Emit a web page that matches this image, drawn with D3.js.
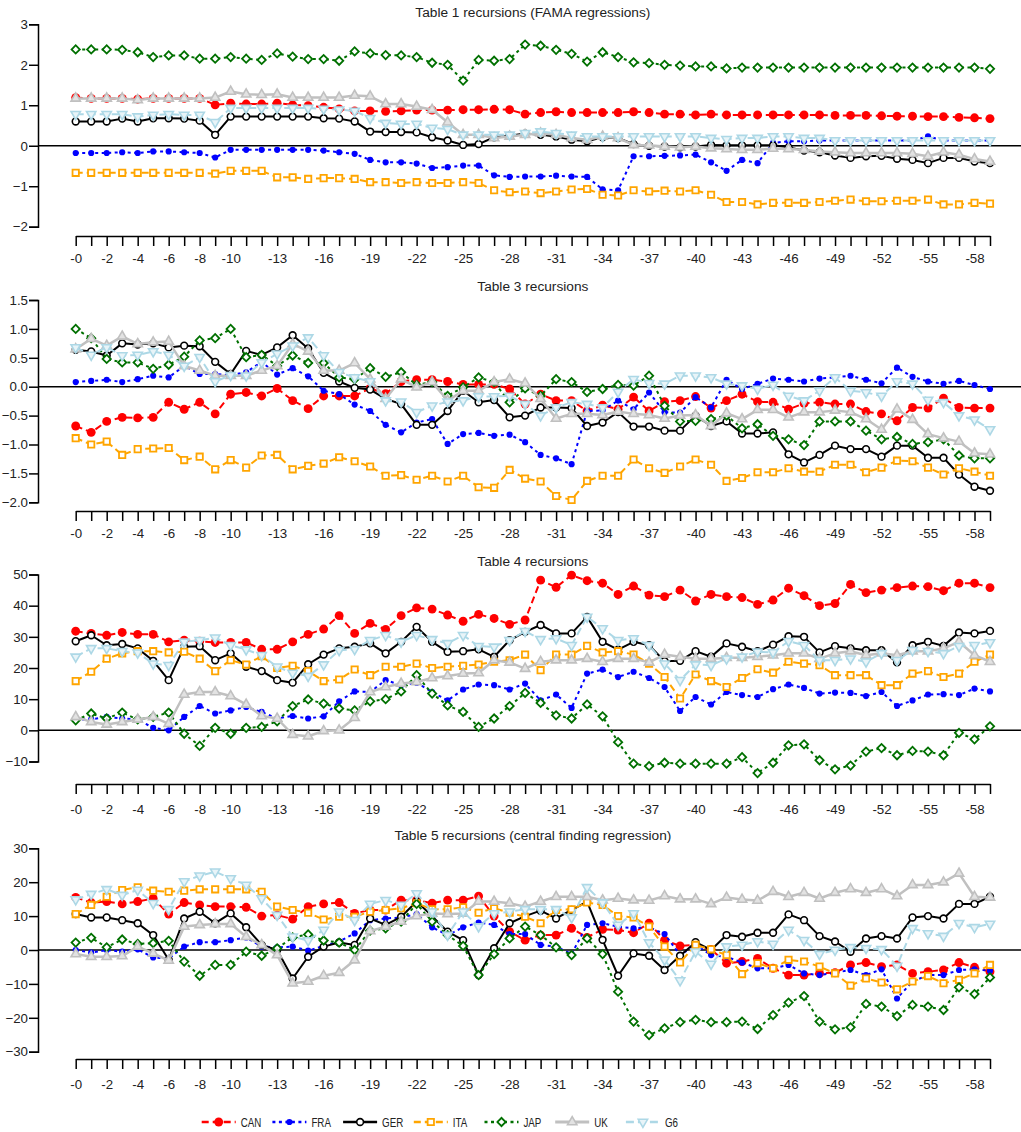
<!DOCTYPE html>
<html><head><meta charset="utf-8">
<script src="https://cdn.jsdelivr.net/npm/d3@7"></script>
<style>
body{margin:0;background:#fff}
svg{display:block}
text{font-family:"Liberation Sans",Arial,Helvetica,sans-serif}
</style>
</head><body>
<svg id="chart" width="1021" height="1132"></svg>
<script>
// ---------------- DATA ----------------
const lags = d3.range(60);                     // lag 0 .. -59
const tickLabelLags = [0,2,4,6,8,10,13,16,19,22,25,28,31,34,37,40,43,46,49,52,55,58];
const seriesNames = ["CAN","FRA","GER","ITA","JAP","UK","G6"];
const panelTitles = ["Table 1 recursions (FAMA regressions)","Table 3 recursions","Table 4 recursions","Table 5 recursions (central finding regression)"];
const yTicks1 = [3,2,1,0,-1,-2];
const yTicks3 = [1.5,1.0,0.5,0.0,-0.5,-1.0,-1.5,-2.0];
const yTicks4 = [50,40,30,20,10,0,-10];
const yTicks5 = [30,20,10,0,-10,-20,-30];

// Table 1
const t1CAN = [1.19,1.17,1.17,1.17,1.15,1.17,1.17,1.17,1.17,1.01, 1.05,1.03,1.03,1.05,1.01,0.99,0.95,0.91,0.86,0.86, 0.85,0.86,0.88,0.88,0.88,0.89,0.89,0.9,0.89,0.78, 0.82,0.84,0.82,0.82,0.82,0.82,0.84,0.82,0.78,0.78, 0.76,0.78,0.76,0.76,0.76,0.76,0.76,0.76,0.76,0.75, 0.75,0.75,0.74,0.73,0.73,0.72,0.72,0.7,0.69,0.67];
const t1FRA = [-0.18,-0.18,-0.18,-0.16,-0.18,-0.14,-0.14,-0.16,-0.18,-0.29, -0.1,-0.1,-0.1,-0.1,-0.1,-0.1,-0.12,-0.16,-0.2,-0.35, -0.41,-0.41,-0.44,-0.55,-0.53,-0.49,-0.49,-0.73,-0.77,-0.76, -0.76,-0.74,-0.76,-0.77,-1.08,-1.1,-0.26,-0.26,-0.25,-0.24, -0.22,-0.41,-0.62,-0.35,-0.43,0.07,0.11,0.11,0.13,0.13, 0.13,0.13,0.13,0.13,0.13,0.23,0.13,0.13,0.13,0.13];
const t1GER = [0.6,0.6,0.6,0.67,0.6,0.68,0.68,0.67,0.62,0.27, 0.72,0.72,0.72,0.72,0.72,0.72,0.68,0.67,0.6,0.35, 0.34,0.34,0.33,0.21,0.13,0.02,0.04,0.21,0.25,0.3, 0.27,0.23,0.15,0.11,0.21,0.19,0.04,0,-0.02,-0.04, -0.02,0.02,0.01,0.01,0.01,0.01,-0.04,-0.12,-0.16,-0.24, -0.3,-0.26,-0.25,-0.32,-0.35,-0.43,-0.3,-0.3,-0.39,-0.43];
const t1ITA = [-0.67,-0.67,-0.67,-0.67,-0.67,-0.67,-0.67,-0.67,-0.67,-0.69, -0.62,-0.62,-0.62,-0.78,-0.78,-0.82,-0.8,-0.8,-0.82,-0.9, -0.9,-0.92,-0.9,-0.92,-0.92,-0.9,-0.92,-1.1,-1.15,-1.13, -1.17,-1.13,-1.08,-1.07,-1.21,-1.23,-1.1,-1.13,-1.11,-1.13, -1.1,-1.21,-1.39,-1.39,-1.45,-1.41,-1.41,-1.41,-1.39,-1.36, -1.33,-1.37,-1.37,-1.36,-1.36,-1.33,-1.45,-1.45,-1.41,-1.43];
const t1JAP = [2.38,2.38,2.38,2.37,2.31,2.19,2.23,2.23,2.15,2.15, 2.19,2.15,2.12,2.28,2.2,2.14,2.14,2.1,2.33,2.28, 2.24,2.23,2.19,2.05,2.0,1.61,2.12,2.1,2.14,2.5, 2.47,2.37,2.27,2.08,2.31,2.19,2.06,2.04,2.0,1.98, 1.96,1.96,1.91,1.93,1.93,1.93,1.93,1.93,1.93,1.93, 1.93,1.93,1.93,1.93,1.93,1.93,1.93,1.93,1.93,1.9];
const t1UK  = [1.17,1.17,1.17,1.17,1.13,1.17,1.17,1.17,1.17,1.19, 1.34,1.27,1.26,1.27,1.19,1.19,1.19,1.19,1.24,1.22, 1.03,1.03,0.97,0.89,0.58,0.27,0.27,0.19,0.23,0.27, 0.31,0.27,0.19,0.15,0.23,0.19,0.02,0.01,-0.02,-0.04, -0.02,-0.06,-0.08,-0.1,-0.1,-0.07,-0.08,-0.1,-0.14,-0.16, -0.18,-0.18,-0.18,-0.18,-0.2,-0.26,-0.16,-0.22,-0.33,-0.39];
const t1G6  = [0.78,0.78,0.78,0.78,0.72,0.76,0.78,0.76,0.76,0.58, 0.93,0.93,0.93,0.93,0.93,0.93,0.91,0.89,0.86,0.68, 0.56,0.54,0.54,0.44,0.41,0.27,0.27,0.27,0.27,0.31, 0.35,0.31,0.27,0.23,0.23,0.23,0.23,0.23,0.23,0.23, 0.23,0.19,0.16,0.19,0.19,0.23,0.23,0.19,0.19,0.13, 0.13,0.13,0.13,0.13,0.13,0.13,0.13,0.13,0.13,0.13];

// Table 3
const t3CAN = [-0.68,-0.79,-0.6,-0.53,-0.54,-0.53,-0.27,-0.39,-0.27,-0.47, -0.13,-0.1,-0.16,-0.03,-0.24,-0.38,-0.16,-0.16,-0.16,-0.03, -0.12,0.09,0.12,0.12,0.09,0.04,0.04,0.04,-0.04,-0.3, -0.13,-0.24,-0.24,-0.42,-0.32,-0.39,-0.18,-0.42,-0.26,-0.24, -0.17,-0.37,-0.24,-0.13,-0.26,-0.27,-0.39,-0.29,-0.27,-0.3, -0.3,-0.43,-0.47,-0.59,-0.36,-0.37,-0.2,-0.36,-0.37,-0.37];
const t3FRA = [0.08,0.1,0.12,0.08,0.13,0.19,0.16,0.36,0.22,0.22, 0.2,0.25,0.43,0.21,0.32,0.18,-0.07,-0.13,-0.31,-0.42, -0.66,-0.79,-0.62,-0.56,-0.99,-0.82,-0.8,-0.85,-0.83,-0.96, -1.18,-1.24,-1.34,-0.42,-0.41,-0.24,-0.39,-0.1,-0.44,-0.45, -0.18,-0.36,0.12,-0.04,0.05,0.14,0.12,0.09,0.14,0.16, 0.19,0.12,0.06,0.33,0.17,0.09,0.05,0.1,0.03,-0.04];
const t3GER = [0.64,0.61,0.54,0.75,0.73,0.75,0.68,0.71,0.7,0.43, 0.22,0.62,0.55,0.68,0.89,0.66,0.24,0.09,-0.02,-0.05, -0.21,-0.3,-0.66,-0.66,-0.42,-0.07,-0.27,-0.23,-0.53,-0.5, -0.36,-0.36,-0.37,-0.68,-0.62,-0.44,-0.69,-0.69,-0.76,-0.76, -0.5,-0.68,-0.6,-0.81,-0.81,-0.79,-1.17,-1.31,-1.18,-1.02, -1.08,-1.08,-1.21,-1.02,-1.02,-1.23,-1.23,-1.52,-1.73,-1.8];
const t3ITA = [-0.89,-1.0,-0.95,-1.18,-1.08,-1.07,-1.06,-1.27,-1.21,-1.43, -1.27,-1.4,-1.19,-1.18,-1.43,-1.37,-1.33,-1.22,-1.29,-1.38, -1.54,-1.53,-1.61,-1.54,-1.64,-1.54,-1.74,-1.75,-1.44,-1.59, -1.64,-1.89,-1.96,-1.63,-1.54,-1.54,-1.26,-1.41,-1.49,-1.38, -1.26,-1.35,-1.63,-1.58,-1.48,-1.48,-1.41,-1.47,-1.47,-1.35, -1.35,-1.48,-1.4,-1.28,-1.29,-1.4,-1.52,-1.41,-1.47,-1.54];
const t3JAP = [1.0,0.84,0.48,0.42,0.42,0.31,0.38,0.52,0.8,0.84, 1.0,0.51,0.55,0.36,0.54,0.41,0.41,0.16,0.13,0.32, 0.17,0.25,0.03,0.08,-0.16,-0.01,0.16,0.08,-0.27,-0.03, -0.16,0.13,0.08,-0.09,-0.04,0.03,0.02,0.19,-0.33,-0.6, -0.59,-0.56,-0.5,-0.72,-0.65,-0.85,-0.91,-1.01,-0.6,-0.6, -0.6,-0.76,-0.91,-0.87,-0.99,-0.96,-0.91,-1.19,-1.24,-1.24];
const t3UK  = [0.65,0.83,0.71,0.87,0.74,0.77,0.78,0.36,0.28,0.19, 0.19,0.19,0.28,0.36,0.74,0.61,0.28,0.28,0.41,0.13, -0.21,0.13,-0.01,0.08,-0.24,-0.07,-0.07,0.08,0.13,0.06, -0.21,-0.55,-0.47,-0.47,-0.49,-0.43,-0.47,-0.49,-0.55,-0.5, -0.49,-0.68,-0.46,-0.56,-0.4,-0.4,-0.53,-0.44,-0.44,-0.41, -0.44,-0.56,-0.74,-0.39,-0.57,-0.82,-0.89,-0.95,-1.15,-1.17];
const t3G6  = [0.68,0.55,0.68,0.54,0.55,0.61,0.55,0.36,0.51,0.09, 0.2,0.19,0.42,0.57,0.71,0.85,0.54,0.25,0.16,0.09, -0.24,-0.26,-0.44,-0.33,-0.26,-0.24,-0.17,-0.17,-0.16,-0.3, -0.5,-0.36,-0.27,-0.3,-0.36,-0.09,0.13,0.06,0.05,0.19, 0.19,0.16,0.05,0.02,-0.04,0.03,-0.16,-0.24,-0.07,0.16, -0.07,-0.1,-0.16,0.09,0.05,-0.23,-0.27,-0.5,-0.57,-0.74];

// Table 4
const t4CAN = [31.8,31.1,30.5,31.4,30.8,30.8,28.4,28.9,28.6,28.2, 28.2,28.2,26,26,28.4,30.8,32.5,36.8,31.1,34.3, 32.4,36.8,39.3,38.9,37,35,37.2,35.9,34,35.4, 48.2,45.9,49.8,48,47.2,43.6,46.3,43.4,42.9,45, 41.5,43.6,42.9,42.6,40.4,41.8,45.6,43.2,40,40.7, 46.8,44.2,45,45.8,46.3,46.1,44.8,47.2,47.2,45.8];
const t4FRA = [3.5,3.5,4.3,3.8,3.5,0.8,0,4.3,7.8,5.4, 6.4,7.5,5.9,3.8,4.6,3.8,4.5,9.3,12.5,12.3, 16.1,14.5,15.3,12.3,9.6,13.1,14.7,14.5,13.1,15, 9.6,11.5,7.2,18.2,19.5,17.1,18.8,16.8,13.9,6.2, 10.7,8.3,12.3,11.3,10.7,13.2,14.7,13.6,11.8,12.1, 12,11,12.3,7.8,9.6,11.5,11.6,11.3,13.4,12.5];
const t4GER = [28.6,30.5,27.3,27.7,26.3,22.3,16.1,26.8,27,22.5, 24.7,20.4,19,16.1,15.3,21.2,24.3,26.3,26.8,27.9, 24.7,28.4,33.2,28.4,25.2,25.4,26,23.6,28.9,31.6, 33.8,31.1,31.1,36.4,28.4,25.9,28.4,27.3,22.2,22.3, 25.4,23.6,27.9,26.8,25.4,27.5,30.2,30,25,27, 26.3,25.7,25.7,21.8,27.3,28.4,27.1,31.4,31.1,31.9];
const t4ITA = [15.8,18.8,23,24.7,25.4,25.4,25,25.2,23,19, 22.5,21.1,23.8,20,20.7,19,15.8,16.3,19.5,17.7, 20.4,20.4,21.4,20,20.4,20.7,21.1,22,22.5,24.3, 19.3,24.3,24.3,27.1,25,25.4,24.3,21.4,17.1,10.2, 17.9,15.8,13.9,16.8,19.6,18.5,22,21.4,20.9,17.7, 17.7,17.7,14.5,14.5,18.2,19,17.1,18.2,22,24.3];
const t4JAP = [3.2,5.4,3.8,5.7,3.5,4.3,5.7,-1.1,-5,0.8, -1.1,0.8,1.1,2.9,7.8,9.9,8.6,7,6.4,9.3, 10,12.5,17.7,11.8,8,5.9,1.1,3.8,7.8,12, 8.8,4.8,3.8,8.3,4.5,-3.8,-10.7,-11.5,-10.4,-10.7, -10.7,-10.7,-10.7,-8.6,-13.7,-10.4,-4.8,-4.5,-9.6,-12.5, -11.3,-6.8,-5.7,-8,-6.6,-6.8,-8,-0.8,-2.9,1.3];
const t4UK  = [4.3,2.7,1.9,2.7,3.5,4.3,2.1,11.5,12.3,12.3, 11,8.3,4.6,3.8,-1.4,-1.9,-0.2,0,4,12.3, 13.9,15,15.5,16.8,17.4,18.2,18.4,22.5,21.8,19.8, 22,22.5,22.5,23,22,23,23,21.8,24.3,23.6, 23,23,23.3,23.3,23.6,24.1,24.7,24.7,23,24.7, 25.4,24.1,24.7,24.1,25.4,25.4,26.3,28.4,24.1,22];
const t4G6  = [23.6,26.3,26.3,25.4,24.9,21.4,20.9,28.4,28.9,29.7, 27.3,25.9,24.1,20.4,18.4,17.4,21.1,25.7,26,28.9, 30.5,28.4,30.5,29.2,27.9,30.5,27,26.8,28.9,31.8, 29.2,29.5,27.3,36.4,32.7,28.9,29.5,27.3,21.4,16.1, 21.1,20.9,23,23.6,25.2,25,28.6,27.3,22.5,22.5, 23,22,24.7,22.5,25.7,25.4,24.7,27,27.3,28.2];

// Table 5
const t5CAN = [15.5,14,14.3,13.6,14.3,15.2,10.6,14,13.3,12.8, 12.8,12.6,10,10.3,9.1,12.8,13.6,14,10.8,11.8, 11.8,14.7,14.7,13.8,14.7,14.7,15.9,10,5.4,2.9, 4.4,4.4,6.4,3.7,6.1,5.9,5.1,7.9,2.9,1.2, 1.5,0.2,-3.9,-3.4,-2.5,-5.4,-7.4,-7.4,-6.9,-6.7, -4.4,-3.7,-4.9,-4.4,-6.9,-6.4,-5.9,-3.7,-5.1,-6.4];
const t5FRA = [0,-0.8,0,-0.5,0.2,-2.2,-2.5,1,2.3,2.3, 2.9,3.7,1,0.8,1,-0.2,1.2,2.5,4.9,8.8, 9.3,9.6,10.6,6.7,4.4,6.7,8.1,7.4,4.7,4.7, 1.5,1,-1.2,7.4,7.9,6.9,6.4,6.7,4.7,-1.5, 1.5,-1.5,-2,-3.7,-5.4,-5.4,-4.4,-6.9,-7.4,-6.7, -5.9,-7.4,-5.7,-14.3,-9.3,-7.4,-7.4,-5.9,-5.7,-6.1];
const t5GER = [10.6,9.6,9.6,8.8,7.9,4.4,-2.9,9.3,11.3,7.9, 10.8,6.7,1.5,0,-8.4,-2,1,2.2,1.5,9.3, 7.4,9.8,14.3,10,5.4,2.9,-7.4,0.5,7.9,10, 11.6,9.3,11.8,14.3,3,-7.6,-1,-1.7,-5.9,-1.7, 2.3,0,4.4,3.9,5.1,5.1,10.5,8.8,4.1,2.5, -0.5,3.4,4.1,3.4,9.6,10,9.3,13.6,13.6,15.7];
const t5ITA = [10.6,13.3,15.7,17.7,18.5,17.5,17.2,17.5,17.9,17.9, 17.9,17.9,17.2,12.8,11.8,11,9,9.8,9.8,11.3, 11.8,12.3,13.8,12,12,12.6,11,12.3,11,9.8, 7.9,11.8,12,14,13.3,10,9.6,6.9,1,-3.7, 1.5,0.2,-1.5,-7.1,-3.9,-5.4,-2.9,-3.4,-4.9,-6.9, -10.5,-8.4,-9.6,-11.6,-9.3,-7.7,-9.8,-8.8,-6.9,-4.4];
const t5JAP = [2.2,3.6,0.8,3.1,1.8,2,2.7,-3.4,-7.6,-4.4, -4.4,-0.5,-1.7,0.5,3.7,4.6,2.8,2.2,0,5.7, 6.4,8.4,13.6,8.4,4.4,1.2,-7.4,-1.2,3.4,6.9, 4.4,0.8,-1.5,3.4,-1.2,-12.3,-21.1,-25.1,-23.1,-21.3, -20.6,-21.3,-21.3,-21.1,-23.3,-19.2,-15.5,-13.6,-21.1,-23.4, -22.8,-15.9,-16.7,-19.5,-16.2,-16.7,-17.7,-11,-13,-8.1];
const t5UK  = [-1.2,-2,-2,-1.8,1,-1,-3.1,6.9,7.4,7.7, 7.7,3.9,1.5,-1.5,-9.8,-9.3,-7.6,-6.7,-3,5.6, 6.9,8.4,10,10.8,10.6,10.8,14.3,14.3,13.8,12.8, 14.3,15.7,15.7,15.7,14.7,15.2,14.7,14.6,15.9,15, 15,13.6,15.5,14.9,14.6,17.2,15.7,16.9,15.2,16.9, 18,16.9,18,15.9,19.2,19.2,20,22.6,15.7,15.5];
const t5G6  = [14.9,16.5,17.9,16.2,17.7,13.8,12,20.2,21.9,23.1, 21.1,19.2,15.2,10.3,3.9,2.8,5.9,11.3,8.8,13.6, 14.7,13.3,16.7,11.3,4.4,11.3,6.9,10.8,11.3,12, 12,12,9.6,18.5,14,7.4,10.8,2.2,-2.9,-9, -0.5,-4.1,1,1.5,2.5,1.8,5.9,2.9,-1.2,0, 0.8,0.5,0.2,-4.7,6.4,4.9,4.1,7.9,6.7,7.7];

// ---------------- STRUCTURE ----------------
const panelData = [
  {CAN:t1CAN,FRA:t1FRA,GER:t1GER,ITA:t1ITA,JAP:t1JAP,UK:t1UK,G6:t1G6},
  {CAN:t3CAN,FRA:t3FRA,GER:t3GER,ITA:t3ITA,JAP:t3JAP,UK:t3UK,G6:t3G6},
  {CAN:t4CAN,FRA:t4FRA,GER:t4GER,ITA:t4ITA,JAP:t4JAP,UK:t4UK,G6:t4G6},
  {CAN:t5CAN,FRA:t5FRA,GER:t5GER,ITA:t5ITA,JAP:t5JAP,UK:t5UK,G6:t5G6}
];
const panelTicks = [yTicks1, yTicks3, yTicks4, yTicks5];
const panelFormats = [d3.format("d"), d3.format(".1f"), d3.format("d"), d3.format("d")];

// layout (pixels)
const layout = [
  {titleY:12,  top:24.3,  bottom:226.7,  axisY:236,  labelY:258},
  {titleY:286.5, top:300,   bottom:502.3,  axisY:511,  labelY:533},
  {titleY:561, top:574.5, bottom:761.5,  axisY:784,  labelY:809},
  {titleY:835, top:848.3, bottom:1051.7, axisY:1059, labelY:1084}
];

const style = {
  CAN:{color:"#ff0000", dash:"7,4", width:2,   sym:d3.symbolCircle, size:62, fill:"#ff0000", sw:0, rot:0},
  FRA:{color:"#0000ff", dash:"3,3.5", width:2, sym:d3.symbolCircle, size:30, fill:"#0000ff", sw:0, rot:0},
  GER:{color:"#000000", dash:null,  width:2,   sym:d3.symbolCircle, size:36, fill:"#ffffff", sw:1.6, rot:0},
  ITA:{color:"#ffa500", dash:"7,4", width:2,   sym:d3.symbolSquare, size:40, fill:"#ffffff", sw:1.8, rot:0},
  JAP:{color:"#007000", dash:"3,3.5", width:2, sym:d3.symbolSquare, size:34, fill:"#ffffff", sw:1.8, rot:45},
  UK: {color:"#c0c0c0", dash:null,  width:2.5, sym:d3.symbolTriangle, size:38, fill:"#e2e2e2", sw:1.6, rot:0},
  G6: {color:"#add8e6", dash:"8,4", width:2,   sym:d3.symbolTriangle, size:38, fill:"#e8f4f8", sw:1.6, rot:180}
};

const svg = d3.select("#chart");
const x = d3.scaleLinear().domain([0, 59]).range([75.7, 990]);
const FONT = '"Liberation Sans",Arial,Helvetica,sans-serif';

panelData.forEach((pd, p) => {
  const L = layout[p];
  const ticks = panelTicks[p];
  const y = d3.scaleLinear().domain([d3.min(ticks), d3.max(ticks)]).range([L.bottom, L.top]);
  const g = svg.append("g");

  // title
  g.append("text").attr("x", (x(0)+x(59))/2).attr("y", L.titleY)
    .attr("text-anchor","middle").attr("dominant-baseline","central")
    .attr("font-size",13.7).attr("fill","#222").text(panelTitles[p]);

  // y axis
  const ya = g.append("g").attr("transform","translate(38,0)")
    .call(d3.axisLeft(y).tickValues(ticks).tickFormat(panelFormats[p]).tickSize(9).tickPadding(1));
  ya.selectAll("path,line").attr("stroke","#000").attr("stroke-width",1.5);
  ya.selectAll("text").attr("font-size",13.3).attr("font-family",FONT).attr("fill","#222");

  // zero line
  g.append("line").attr("x1",38).attr("x2",1021).attr("y1",y(0)).attr("y2",y(0))
    .attr("stroke","#000").attr("stroke-width",1.5);

  // x axis (tick row)
  const xa = g.append("g").attr("transform",`translate(0,${L.axisY})`)
    .call(d3.axisBottom(x).tickValues(lags).tickSize(10).tickSizeOuter(0).tickPadding(4)
      .tickFormat(d => tickLabelLags.includes(d) ? "-" + d : ""));
  xa.selectAll("path,line").attr("stroke","#000").attr("stroke-width",1.5);
  xa.selectAll("text").attr("font-size",13.3).attr("font-family",FONT).attr("fill","#222")
    .attr("y", L.labelY - L.axisY).attr("dy","0.35em");

  // series
  seriesNames.forEach(name => {
    const s = style[name];
    const vals = pd[name];
    const line = d3.line().x((d,i) => x(i)).y(d => y(d));
    g.append("path").datum(vals).attr("d", line).attr("fill","none")
      .attr("stroke", s.color).attr("stroke-width", s.width)
      .attr("stroke-dasharray", s.dash).attr("stroke-linejoin","round");
    const sym = d3.symbol().type(s.sym).size(s.size);
    g.append("g").selectAll("path").data(vals).join("path")
      .attr("d", sym)
      .attr("transform",(d,i) => `translate(${x(i)},${y(d)}) rotate(${s.rot})`)
      .attr("fill", s.fill).attr("stroke", s.color).attr("stroke-width", s.sw);
  });
});

// legend
const legY = 1122;
const leg = svg.append("g");
seriesNames.forEach((name, k) => {
  const s = style[name];
  const x0 = 201.7 + k * 70.7;
  leg.append("line").attr("x1",x0).attr("x2",x0+34).attr("y1",legY).attr("y2",legY)
    .attr("stroke",s.color).attr("stroke-width",s.width+0.5).attr("stroke-dasharray",s.dash);
  leg.append("path").attr("d", d3.symbol().type(s.sym).size(s.size)())
    .attr("transform",`translate(${x0+17},${legY}) rotate(${s.rot})`)
    .attr("fill", s.fill).attr("stroke", s.color).attr("stroke-width", s.sw);
  leg.append("text").attr("transform",`translate(${x0+39},${legY}) scale(0.75,1)`)
    .attr("dominant-baseline","central").attr("font-size",13).attr("fill","#222").text(name);
});
</script>
</body></html>
